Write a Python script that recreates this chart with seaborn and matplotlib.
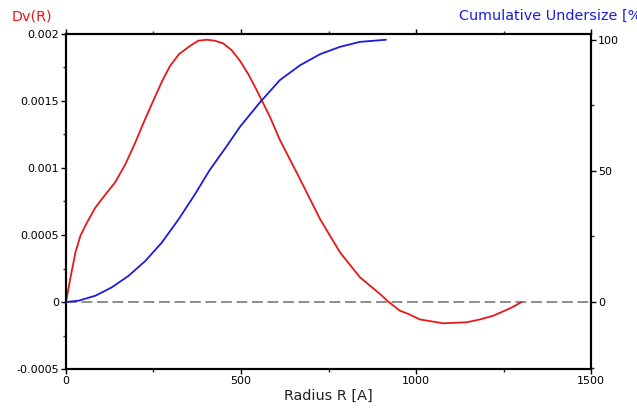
import numpy as np
import pandas as pd
import matplotlib
matplotlib.use("Agg")
import matplotlib.pyplot as plt
import seaborn as sns
from matplotlib.ticker import MultipleLocator, FixedLocator, FixedFormatter

# Data
radius_dv = [0, 12, 27, 41, 60, 84, 112, 141, 170, 198, 222, 249, 275, 297, 323,
             354, 378, 402, 425, 449, 473, 497, 521, 545, 583, 611, 669, 726, 783,
             840, 897, 922, 954, 978, 1011, 1078, 1145, 1183, 1221, 1269, 1302]
dv_values = [0, 0.000171, 0.00037, 0.000493, 0.000593, 0.000705, 0.0008, 0.000895,
             0.00103, 0.00119, 0.00134, 0.0015, 0.00165, 0.00176, 0.00185,
             0.00191, 0.00195, 0.001957, 0.00195, 0.00193, 0.00188, 0.0018,
             0.0017, 0.00158, 0.00138, 0.00121, 0.000915, 0.000618, 0.00037,
             0.000184, 0.00006, 0.0, -0.000065, -0.000089, -0.00013, -0.000159,
             -0.000151, -0.00013, -0.000102, -0.000047, 0.0]

radius_cu = [0, 36, 84, 131, 179, 227, 274, 322, 369, 411, 459, 497, 554, 611, 669,
             726, 783, 840, 914]
cu_values = [0, 0.5, 2.4, 5.6, 10, 15.7, 22.7, 31.6, 41.2, 50.4, 59.4, 66.8, 76.1,
             84.6, 90.3, 94.5, 97.3, 99.2, 100]

left_ticks = [-0.0005, 0, 0.0005, 0.001, 0.0015, 0.002]
left_labels = ["-0.0005", "0", "0.0005", "0.001", "0.0015", "0.002"]
right_ticks = [0, 50, 100]
right_labels = ["0", "50", "100"]
x_ticks = [0, 500, 1000, 1500]

sns.set_style("ticks")
plt.rcParams['font.family'] = ['DejaVu Sans']

df_dv = pd.DataFrame({"R": radius_dv, "Dv": dv_values})
df_cu = pd.DataFrame({"R": radius_cu, "Cu": cu_values})

fig = plt.figure(figsize=(6.37, 4.18), dpi=100)
ax = fig.add_axes([0.1036, 0.1172, 0.8242, 0.8015])
ax2 = ax.twinx()

red = "#e81818"
blue = "#1c1ce0"

ax.axhline(0, color="#7a7a7a", lw=1.2, ls=(0, (6.5, 2.8)), zorder=1)
sns.lineplot(data=df_dv, x="R", y="Dv", ax=ax, color=red, lw=1.3, sort=False, zorder=3)
sns.lineplot(data=df_cu, x="R", y="Cu", ax=ax2, color=blue, lw=1.3, sort=False, zorder=3)

ax.set_xlim(0, 1500)
ax.set_ylim(-0.0005, 0.002)
ax2.set_ylim(-25.55, 102.2)

ax.xaxis.set_major_locator(FixedLocator(x_ticks))
ax.xaxis.set_minor_locator(MultipleLocator(250))
ax.yaxis.set_major_locator(FixedLocator(left_ticks))
ax.yaxis.set_major_formatter(FixedFormatter(left_labels))
ax.yaxis.set_minor_locator(MultipleLocator(0.00025))
ax2.yaxis.set_major_locator(FixedLocator(right_ticks))
ax2.yaxis.set_major_formatter(FixedFormatter(right_labels))
ax2.yaxis.set_minor_locator(MultipleLocator(25))

ax.set_xlabel("Radius R [A]", fontsize=10.4, color="#222222", labelpad=2)
ax.set_ylabel("")
ax2.set_ylabel("")

for a in (ax, ax2):
    for s in a.spines.values():
        s.set_visible(True)
        s.set_linewidth(1.5)
        s.set_color("black")
    a.tick_params(which="major", length=3.5, width=1, labelsize=8, pad=1.5, colors="black")
    a.tick_params(which="minor", length=2.5, width=1)
    a.grid(False)

ax.tick_params(axis="x", which="both", top=True, labelsize=8)
ax.tick_params(axis="y", which="both", right=False)
ax2.tick_params(axis="y", which="both", left=False, right=True)

fig.text(12 / 637, 1 - 17 / 418, "Dv(R)", color=red, fontsize=10.4, ha="left", va="center")
fig.text(459 / 637, 1 - 16 / 418, "Cumulative Undersize [%]", color=blue, fontsize=10.4,
         ha="left", va="center")

fig.savefig("out.png", dpi=100)
